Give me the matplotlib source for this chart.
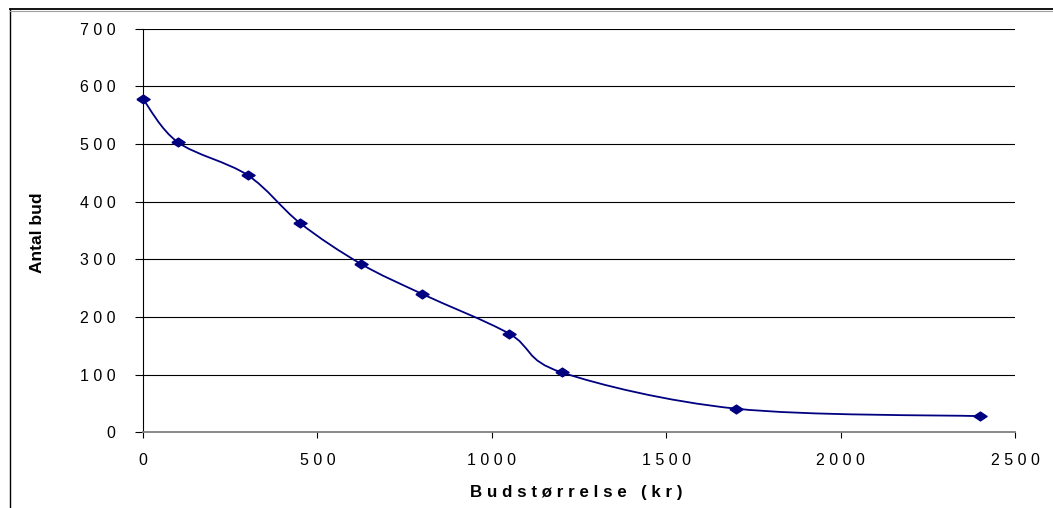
import matplotlib
matplotlib.use("Agg")
import matplotlib.pyplot as plt
import numpy as np
from matplotlib.path import Path
from matplotlib.patches import PathPatch
from matplotlib.lines import Line2D

# Data
bid_size = [0, 100, 300, 450, 625, 800, 1050, 1200, 1700, 2400]
num_bids = [578, 503, 446, 363, 292, 240, 171, 104, 41, 28]

x_ticks = [0, 500, 1000, 1500, 2000, 2500]
y_ticks = [0, 100, 200, 300, 400, 500, 600, 700]

x_title = "Budstørrelse (kr)"
y_title = "Antal bud"

plt.rcParams['font.family'] = ['Liberation Sans', 'DejaVu Sans']

W, H = 1053, 508
fig = plt.figure(figsize=(W / 100, H / 100), dpi=100)
ax = fig.add_axes([143 / W, 1 - 432.3 / H, (1015 - 143) / W, (432.3 - 28.7) / H])

navy = '#000080'

# smoothed line (Catmull-Rom style Bezier through the data points)
pts = np.column_stack([bid_size, num_bids]).astype(float)
n = len(pts)
verts = [pts[0]]
codes = [Path.MOVETO]
for i in range(n - 1):
    p0 = pts[i - 1] if i > 0 else pts[i]
    p1 = pts[i]
    p2 = pts[i + 1]
    p3 = pts[i + 2] if i + 2 < n else pts[i + 1]
    c1 = p1 + (p2 - p0) / 6.0
    c2 = p2 - (p3 - p1) / 6.0
    verts += [c1, c2, p2]
    codes += [Path.CURVE4] * 3
path = Path(verts, codes)
ax.add_patch(PathPatch(path, facecolor='none', edgecolor=navy, lw=1.3, zorder=3))

# markers
diamond = [(-1.5, 0), (0, 1), (1.5, 0), (0, -1), (-1.5, 0)]
ax.plot(bid_size, num_bids, linestyle='none', marker=diamond, markersize=9.5,
        color=navy, zorder=4, clip_on=False)

ax.set_xlim(0, 2500)
ax.set_ylim(0, 700)
ax.set_xticks(x_ticks)
ax.set_yticks(y_ticks)
spaced = lambda v: " ".join(str(int(v)))
ax.set_xticklabels([spaced(v) for v in x_ticks])
ax.set_yticklabels([spaced(v) for v in y_ticks])

for y in y_ticks[1:]:
    ax.axhline(y, color='black', lw=0.8, zorder=1)

ax.spines['top'].set_visible(False)
ax.spines['right'].set_visible(False)
ax.spines['left'].set_color('black')
ax.spines['left'].set_linewidth(0.8)
ax.spines['bottom'].set_color('#808080')
ax.spines['bottom'].set_linewidth(1.3)

ax.tick_params(axis='y', direction='out', length=5.8, width=0.8, color='black',
               pad=14, labelsize=11.5)
ax.tick_params(axis='x', direction='out', length=4.3, width=0.8, color='black',
               pad=10.5, labelsize=11.5)

fig.text(37 / W, 1 - 232.5 / H, y_title, rotation=90, ha='center', va='center',
         fontsize=12.5, fontweight='bold')
fig.text(576 / W, 1 - 493 / H, " ".join(x_title).replace("(   ", "( ").replace("   )", " )"),
         ha='center', va='center', fontsize=12.2, fontweight='bold')

# chart-area border (cropped on right and bottom)
fig.add_artist(Line2D([10 / W, 10 / W], [0, 1 - 9.3 / H], color='black', lw=1.0))
fig.add_artist(Line2D([10 / W, 1], [1 - 9.3 / H, 1 - 9.3 / H], color='black', lw=1.3))
fig.add_artist(Line2D([10 / W, 1], [1 - 10.6 / H, 1 - 10.6 / H], color='#a0a0a0', lw=0.8))

fig.savefig('out.png', dpi=100)
